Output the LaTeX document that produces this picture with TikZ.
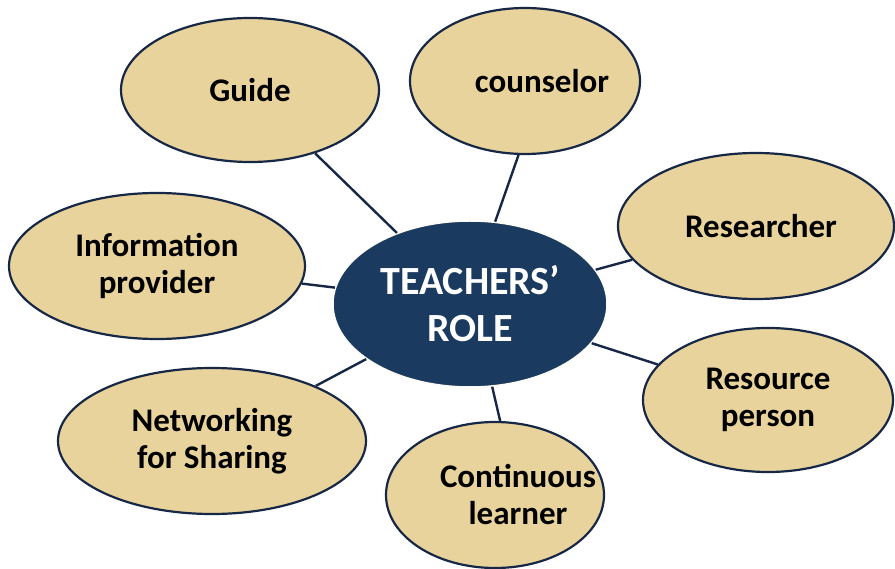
\documentclass[tikz,border=0pt]{standalone}
\usepackage{fontspec}
\setmainfont{Carlito}
\usetikzlibrary{shapes.geometric}
\definecolor{papyrus}{RGB}{233,211,156}
\definecolor{navyfill}{RGB}{27,58,96}
\definecolor{navyline}{RGB}{22,40,70}
\newcommand{\offtext}[2]{\makebox[0pt]{\hspace*{#1}#2}}
\begin{document}
\begin{tikzpicture}[x=1pt,y=-1pt,
	role/.style={ellipse,draw=navyline,line width=2.2pt,fill=papyrus,inner sep=0pt,
		align=center,font=\bfseries\fontsize{33}{37}\selectfont},
	hub/.style={ellipse,draw=white!90!papyrus,line width=1.5pt,fill=navyfill,inner sep=0pt,
		text=white,align=center,font=\bfseries\fontsize{40}{47}\selectfont},
	link/.style={draw=navyline,line width=2.4pt}]
	\useasboundingbox (0,0) rectangle (895,569);
	% centre
	\node [hub,minimum width=274,minimum height=166] (role) at (470,304) {TEACHERS'\\ROLE};
	% roles round it
	\node [role,minimum width=258,minimum height=144] (guide) at (250,90) {Guide};
	\node [role,minimum width=230,minimum height=146] (counsel) at (525,81) {\offtext{34pt}{counselor}};
	\node [role,minimum width=276,minimum height=146] (research) at (756,226) {\offtext{10pt}{Researcher}};
	\node [role,minimum width=296,minimum height=146] (info) at (157,266) {\offtext{0pt}{Information}\\\offtext{0pt}{provider}};
	\node [role,minimum width=250,minimum height=144] (resource) at (768,400) {Resource\\person};
	\node [role,minimum width=308,minimum height=146] (network) at (212,441) {Networking\\for Sharing};
	\node [role,minimum width=218,minimum height=146] (learner) at (495,495) {\offtext{46pt}{Continuous}\\\offtext{46pt}{learner}};
	% links
	\draw [link] (role) -- (guide);
	\draw [link] (role.73) -- (counsel.265);
	\draw [link] (role) -- (research);
	\draw [link] (role) -- (info);
	\draw [link] (role) -- (resource);
	\draw [link] (role) -- (network);
	\draw [link] (role.285) -- (learner.86);
\end{tikzpicture}
\end{document}
